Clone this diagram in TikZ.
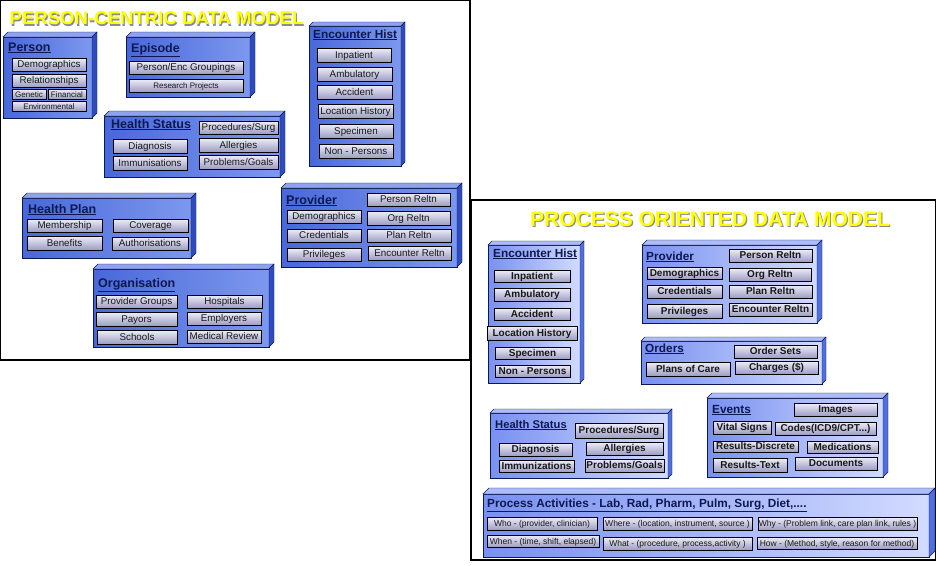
\documentclass[tikz,border=0pt]{standalone}
\usepackage{fontspec}
\setmainfont{Liberation Sans}
\usetikzlibrary{fit,shadows,backgrounds}

\definecolor{navy}{HTML}{0E1850}
\definecolor{lA}{HTML}{4868DA}
\definecolor{lB}{HTML}{7D98EE}
\definecolor{lTop}{HTML}{8EA2F0}
\definecolor{lSide}{HTML}{2E4CC0}
\definecolor{rA}{HTML}{7890F0}
\definecolor{rB}{HTML}{D2DBFF}
\definecolor{rTop}{HTML}{AEBCFA}
\definecolor{rSide}{HTML}{4F6EE0}
\definecolor{bA}{HTML}{EEEEFA}
\definecolor{bB}{HTML}{9C9CC2}
\definecolor{ttlyellow}{HTML}{FFFF00}

\tikzset{
  front/.style={draw=navy, line width=0.5pt, inner sep=0pt, outer sep=0pt},
  lf/.style={front, left color=lA, right color=lB},
  rf/.style={front, left color=rA, right color=rB},
  lt/.style={fill=lTop, draw=navy, line width=0.4pt},
  ls/.style={fill=lSide, draw=navy, line width=0.4pt},
  rt/.style={fill=rTop, draw=navy, line width=0.4pt},
  rs/.style={fill=rSide, draw=navy, line width=0.4pt},
  hdr/.style={anchor=base west, inner sep=0pt, text=navy, font=\fontsize{12.5}{14}\selectfont\bfseries},
  rhdr/.style={hdr, font=\fontsize{11.8}{13}\selectfont\bfseries},
  btn/.style={draw=black, line width=0.5pt, top color=bA, bottom color=bB,
    inner sep=0pt, outer sep=0pt, text=black!90, text height=0.72em, text depth=0.12em,
    drop shadow={shadow xshift=1.2pt, shadow yshift=-1.2pt, fill=black!80, opacity=1}},
  lb/.style={btn, font=\fontsize{9.8}{10}\selectfont},
  lbs/.style={btn, font=\fontsize{8}{8}\selectfont},
  rb/.style={btn, font=\fontsize{10}{10}\selectfont\bfseries},
  pb/.style={btn, font=\fontsize{8.5}{9}\selectfont},
  link/.style={draw=black!80, line width=0.8pt},
  frame/.style={draw=black, line width=1.2pt},
  bigtitle/.style={inner sep=0pt, font=\bfseries},
}

% 3-D box: front face node plus top and right faces
% #1 name, #2 front style, #3 top style, #4 side style, #5/#6 corners, #7 depth
\newcommand\cubebox[7]{%
  \node[#2, fit={#5 #6}] (#1) {};
  \path[#3] (#1.north west) -- ++(#7,-#7) -- ([shift={(#7,-#7)}]#1.north east) -- (#1.north east) -- cycle;
  \path[#4] (#1.north east) -- ++(#7,-#7) -- ([shift={(#7,-#7)}]#1.south east) -- (#1.south east) -- cycle;
}
% raised button: #1 style, #2 name, #3..#6 x1 y1 x2 y2, #7 text
\newcommand\mkbtn[7]{%
  \node[#1, minimum width={(#5-#3)*1pt}, minimum height={(#6-#4)*1pt}] (#2) at ({(#3+#5)/2},{(#4+#6)/2}) {#7};}

\begin{document}
\begin{tikzpicture}[x=1pt, y=-1pt]
\useasboundingbox (0,0) rectangle (936,565);
\fill[white] (0,0) rectangle (936,565);

% panel frames
\draw[frame] (0.6,0.6) rectangle (470,360);
\draw[frame] (471,200) rectangle (935.4,560);

% panel titles
\node[bigtitle, text=black!45, font=\fontsize{18.6}{19}\selectfont\bfseries] (t1s) at (157.6,19.6) {PERSON-CENTRIC DATA MODEL};
\node[bigtitle, text=ttlyellow, font=\fontsize{18.6}{19}\selectfont\bfseries] (t1) at (156.5,18.5) {PERSON-CENTRIC DATA MODEL};
\node[bigtitle, text=black!45, font=\fontsize{21}{22}\selectfont\bfseries] (t2s) at (711.2,220.7) {PROCESS ORIENTED DATA MODEL};
\node[bigtitle, text=ttlyellow, font=\fontsize{21}{22}\selectfont\bfseries] (t2) at (710,219.5) {PROCESS ORIENTED DATA MODEL};

% ---------------- person-centric model ----------------
\cubebox{person}{lf}{lt}{ls}{(3,37)}{(92,118)}{5}
\node[hdr] (person-t) at (8,51) {\underline{Person}};
\mkbtn{lb}{pe1}{12}{58}{86}{71}{Demographics}
\mkbtn{lb}{pe2}{12}{74}{86}{87}{Relationships}
\mkbtn{lbs}{pe3}{12}{89}{46}{99}{Genetic}
\mkbtn{lbs}{pe4}{48}{89}{86}{99}{Financial}
\mkbtn{lbs}{pe5}{12}{101}{86}{111}{Environmental}

\cubebox{episode}{lf}{lt}{ls}{(126,37)}{(250,97)}{5}
\node[hdr] (episode-t) at (131,52) {\underline{Episode}};
\mkbtn{lb}{ep1}{129}{61}{243}{74}{Person/Enc Groupings}
\mkbtn{lbs}{ep2}{129}{79}{243}{92}{Research Projects}

\cubebox{ehL}{lf}{lt}{ls}{(309,26)}{(401,166)}{4}
\node[hdr, font=\fontsize{11.8}{13}\selectfont\bfseries] (ehL-t) at (313,38) {\underline{Encounter Hist}};
\mkbtn{lb}{el1}{317}{48}{391}{62}{Inpatient}
\mkbtn{lb}{el2}{317}{67}{392}{81}{Ambulatory}
\mkbtn{lb}{el3}{317}{85}{392}{99}{Accident}
\mkbtn{lb}{el4}{318}{104}{393}{118}{Location History}
\mkbtn{lb}{el5}{319}{124}{393}{138}{Specimen}
\mkbtn{lb}{el6}{319}{144}{393}{158}{Non - Persons}

\cubebox{hsL}{lf}{lt}{ls}{(104,116)}{(280,177)}{5}
\node[hdr] (hsL-t) at (111,128) {\underline{Health Status}};
\mkbtn{lb}{hl1}{199}{121}{278}{134}{Procedures/Surg}
\mkbtn{lb}{hl2}{113}{139}{187}{153}{Diagnosis}
\mkbtn{lb}{hl3}{199}{138}{278}{152}{Allergies}
\mkbtn{lb}{hl4}{113}{156}{187}{170}{Immunisations}
\mkbtn{lb}{hl5}{199}{155}{278}{169}{Problems/Goals}

\cubebox{hplan}{lf}{lt}{ls}{(22,198)}{(191,258)}{5}
\node[hdr] (hplan-t) at (28,213) {\underline{Health Plan}};
\mkbtn{lb}{hp1}{27}{219}{102}{232}{Membership}
\mkbtn{lb}{hp2}{113}{219}{188}{232}{Coverage}
\mkbtn{lb}{hp3}{27}{236}{102}{250}{Benefits}
\mkbtn{lb}{hp4}{112}{237}{188}{250}{Authorisations}

\cubebox{provL}{lf}{lt}{ls}{(281,188)}{(457,267)}{5}
\node[hdr] (provL-t) at (286,204) {\underline{Provider}};
\mkbtn{lb}{pl1}{367}{193}{450}{206}{Person Reltn}
\mkbtn{lb}{pl2}{287}{210}{361}{223}{Demographics}
\mkbtn{lb}{pl3}{367}{211}{450}{225}{Org Reltn}
\mkbtn{lb}{pl4}{287}{229}{361}{242}{Credentials}
\mkbtn{lb}{pl5}{367}{229}{451}{242}{Plan Reltn}
\mkbtn{lb}{pl6}{287}{248}{361}{261}{Privileges}
\mkbtn{lb}{pl7}{368}{246}{451}{260}{Encounter Reltn}

\cubebox{org}{lf}{lt}{ls}{(93,269)}{(269,347)}{5}
\node[hdr] (org-t) at (98,287) {\underline{Organisation}};
\mkbtn{lb}{or1}{96}{295}{177}{308}{Provider Groups}
\mkbtn{lb}{or2}{187}{295}{262}{308}{Hospitals}
\mkbtn{lb}{or3}{96}{312}{177}{326}{Payors}
\mkbtn{lb}{or4}{187}{312}{261}{325}{Employers}
\mkbtn{lb}{or5}{97}{330}{177}{344}{Schools}
\mkbtn{lb}{or6}{187}{330}{261}{343}{Medical Review}

% ---------------- process oriented model ----------------
\cubebox{ehR}{rf}{rt}{rs}{(488,245)}{(580,383)}{4}
\node[rhdr] (ehR-t) at (493,257) {\underline{Encounter Hist}};
\mkbtn{rb}{er1}{494}{270}{570}{282}{Inpatient}
\mkbtn{rb}{er2}{494}{288}{570}{301}{Ambulatory}
\mkbtn{rb}{er3}{494}{308}{570}{320}{Accident}
\mkbtn{rb}{er4}{487}{326}{577}{340}{Location History}
\mkbtn{rb}{er5}{495}{347}{570}{359}{Specimen}
\mkbtn{rb}{er6}{495}{365}{570}{377}{Non - Persons}

\cubebox{provR}{rf}{rt}{rs}{(642,245)}{(817,323)}{5}
\node[rhdr] (provR-t) at (646,260) {\underline{Provider}};
\mkbtn{rb}{pr1}{729}{249}{812}{262}{Person Reltn}
\mkbtn{rb}{pr2}{647}{267}{722}{279}{Demographics}
\mkbtn{rb}{pr3}{729}{268}{811}{281}{Org Reltn}
\mkbtn{rb}{pr4}{647}{285}{722}{298}{Credentials}
\mkbtn{rb}{pr5}{729}{285}{812}{298}{Plan Reltn}
\mkbtn{rb}{pr6}{647}{304}{722}{318}{Privileges}
\mkbtn{rb}{pr7}{729}{303}{812}{316}{Encounter Reltn}

\cubebox{orders}{rf}{rt}{rs}{(641,341)}{(822,384)}{4}
\node[rhdr] (orders-t) at (645,352) {\underline{Orders}};
\mkbtn{rb}{od1}{734}{345}{817}{358}{Order Sets}
\mkbtn{rb}{od2}{646}{362}{730}{376}{Plans of Care}
\mkbtn{rb}{od3}{735}{361}{818}{374}{Charges (\$)}

\cubebox{events}{rf}{rt}{rs}{(707,398)}{(883,477)}{5}
\node[rhdr] (events-t) at (712,413) {\underline{Events}};
\mkbtn{rb}{ev1}{794}{403}{877}{416}{Images}
\mkbtn{rb}{ev2}{713}{421}{771}{434}{Vital Signs}
\mkbtn{rb}{ev3}{775}{422}{876}{435}{Codes(ICD9/CPT...)}
\mkbtn{rb}{ev4}{713}{441}{798}{452}{Results-Discrete}
\mkbtn{rb}{ev5}{807}{441}{878}{453}{Medications}
\mkbtn{rb}{ev6}{713}{458}{787}{472}{Results-Text}
\mkbtn{rb}{ev7}{795}{457}{877}{470}{Documents}

\cubebox{hsR}{rf}{rt}{rs}{(490,413)}{(668,478)}{4}
\node[rhdr, font=\fontsize{11.2}{12}\selectfont\bfseries] (hsR-t) at (495,428) {\underline{Health Status}};
\mkbtn{rb}{hr1}{575}{423}{663}{438}{Procedures/Surg}
\mkbtn{rb}{hr2}{499}{443}{572}{456}{Diagnosis}
\mkbtn{rb}{hr3}{586}{442}{663}{455}{Allergies}
\mkbtn{rb}{hr4}{499}{460}{574}{472}{Immunizations}
\mkbtn{rb}{hr5}{585}{459}{664}{472}{Problems/Goals}

\cubebox{procA}{rf}{rt}{rs}{(483,494)}{(929,557)}{6}
\node[rhdr] (procA-t) at (487,507) {\underline{Process Activities - Lab, Rad, Pharm, Pulm, Surg, Diet,....}};
\mkbtn{pb}{pa1}{487}{517}{597}{530}{Who - (provider, clinician)}
\mkbtn{pb}{pa2}{603}{517}{752}{530}{Where - (location, instrument, source )}
\mkbtn{pb}{pa3}{758}{517}{917}{530}{Why - (Problem link, care plan link, rules )}
\mkbtn{pb}{pa4}{487}{535}{599}{547}{When - (time, shift, elapsed)}
\mkbtn{pb}{pa5}{603}{537}{752}{550}{What - (procedure, process,activity )}
\mkbtn{pb}{pa6}{757}{537}{917}{549}{How - (Method, style, reason for method)}

% ---------------- connectors (behind the boxes) ----------------
\begin{scope}[on background layer]
  % person-centric
  \draw[link] (person.east |- 0,58) -- (episode.west |- 0,58);
  \draw[link] (episode.east |- 0,58) -- (ehL.west |- 0,58);
  \draw[link] (person.east |- 0,101) -- (ehL.west |- 0,101);
  \draw[link] (hsL.east |- 0,139) -- (ehL.west |- 0,139);
  \draw[link] (61,0 |- person.south) |- (hsL.west |- 0,147);
  \draw[link] (41,0 |- person.south) -- (41,0 |- hplan.north);
  \draw[link] (16,0 |- person.south) |- (org.west |- 0,313);
  \coordinate (rtPP) at (375,353);
  \draw[link] (7,0 |- person.south) |- (rtPP) -- (rtPP |- provL.south);
  \draw[link] (hplan.east |- 0,217) -- (provL.west |- 0,217);
  \draw[link] (68,0 |- hplan.south) |- (org.west |- 0,285);
  \draw[link] (332,0 |- provL.south) |- (org.east |- 0,297);
  \draw[link] (357,0 |- ehL.south) -- (357,0 |- provL.north);
  % process oriented
  \draw[link] (ehR.east |- 0,272) -- (provR.west |- 0,272);
  \draw[link] (ehR.east |- 0,348) -- (orders.west |- 0,348);
  \draw[link] (675,0 |- provR.south) -- (675,0 |- orders.north);
  \draw[link] (provR.east |- 0,278) -| (907,0 |- procA.north);
  \draw[link] (orders.east |- 0,355) -| (896,0 |- procA.north);
  \draw[link] (692,0 |- orders.south) |- (events.west |- 0,407);
  \draw[link] (hsR.east |- 0,433) -- (events.west |- 0,433);
  \draw[link] (541,0 |- ehR.south) -- (541,0 |- hsR.north);
  \draw[link] (794,0 |- events.south) -- (794,0 |- procA.north);
\end{scope}
\end{tikzpicture}
\end{document}
